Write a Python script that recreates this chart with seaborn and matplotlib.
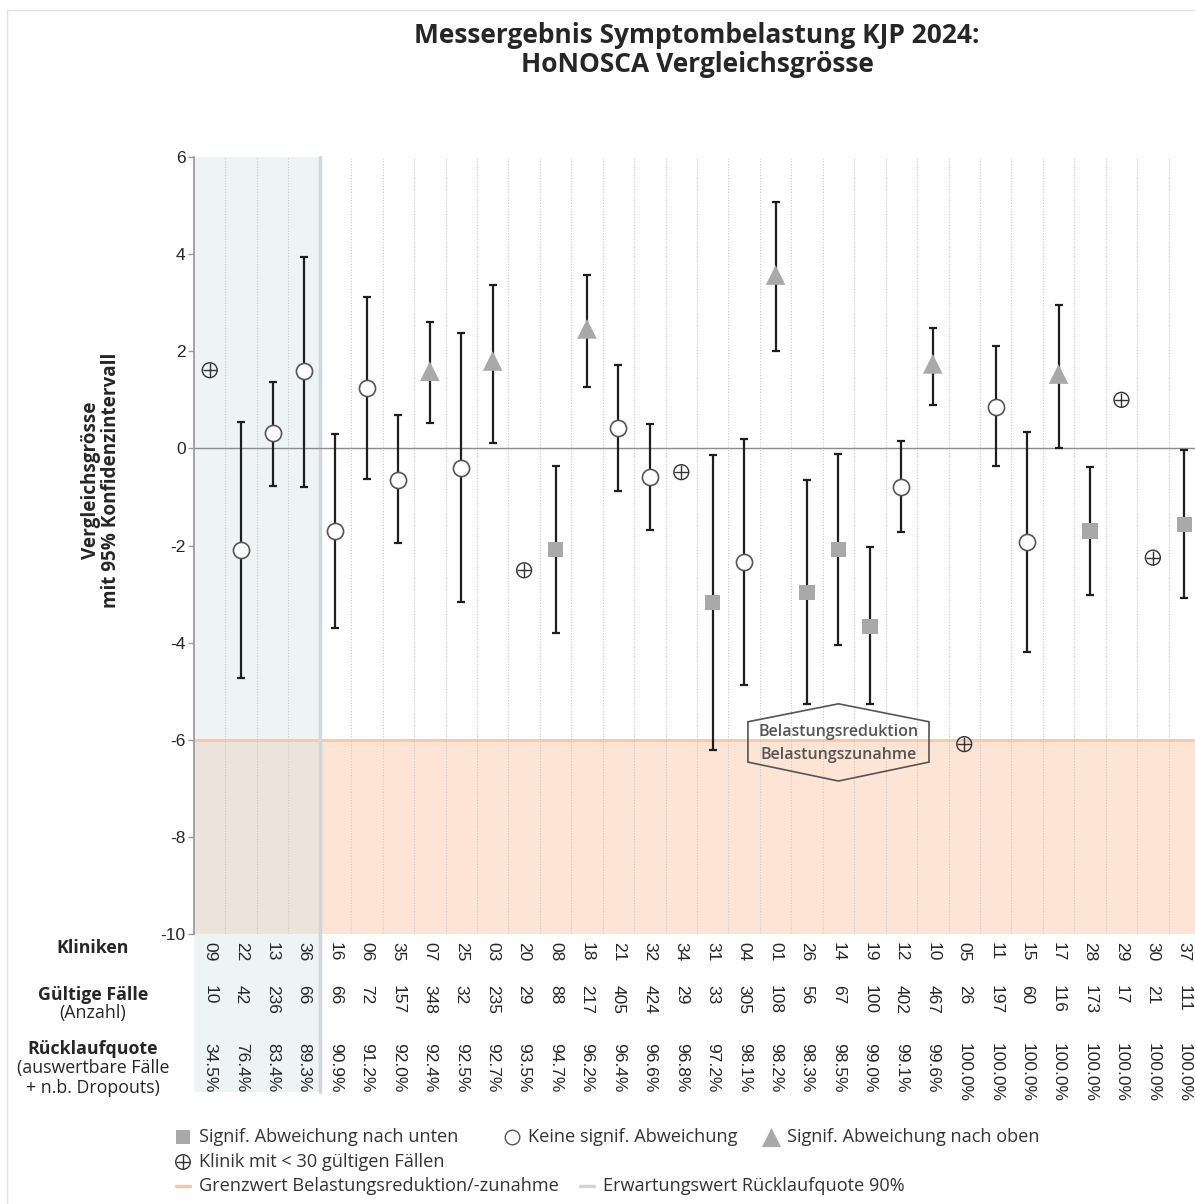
import numpy as np
import pandas as pd
import seaborn as sns
import matplotlib.pyplot as plt
import matplotlib.transforms as mtransforms
from matplotlib.patches import Polygon

# Werte
kliniken = ["09", "22", "13", "36", "16", "06", "35", "07", "25", "03", "20", "08", "18", "21", "32", "34",
            "31", "04", "01", "26", "14", "19", "12", "10", "05", "11", "15", "17", "28", "29", "30", "37"]
faelle = [10, 42, 236, 66, 66, 72, 157, 348, 32, 235, 29, 88, 217, 405, 424, 29,
          33, 305, 108, 56, 67, 100, 402, 467, 26, 197, 60, 116, 173, 17, 21, 111]
quote = [34.5, 76.4, 83.4, 89.3, 90.9, 91.2, 92.0, 92.4, 92.5, 92.7, 93.5, 94.7, 96.2, 96.4, 96.6, 96.8,
         97.2, 98.1, 98.2, 98.3, 98.5, 99.0, 99.1, 99.6, 100.0, 100.0, 100.0, 100.0, 100.0, 100.0, 100.0, 100.0]
wert = [1.61, -2.09, 0.32, 1.59, -1.70, 1.24, -0.65, 1.59, -0.40, 1.80, -2.51, -2.09, 2.46, 0.42, -0.59, -0.49,
        -3.18, -2.34, 3.57, -2.96, -2.09, -3.66, -0.79, 1.74, -6.09, 0.85, -1.93, 1.53, -1.70, 1.00, -2.25, -1.56]
ki_unten = [np.nan, -4.73, -0.77, -0.79, -3.70, -0.63, -1.95, 0.52, -3.16, 0.11, np.nan, -3.80, 1.26, -0.88, -1.68, np.nan,
            -6.21, -4.88, 2.01, -5.26, -4.05, -5.26, -1.72, 0.89, np.nan, -0.36, -4.19, 0.00, -3.02, np.nan, np.nan, -3.08]
ki_oben = [np.nan, 0.54, 1.37, 3.94, 0.30, 3.12, 0.69, 2.60, 2.38, 3.36, np.nan, -0.36, 3.57, 1.72, 0.50, np.nan,
           -0.14, 0.19, 5.07, -0.65, -0.11, -2.03, 0.15, 2.48, np.nan, 2.11, 0.34, 2.95, -0.38, np.nan, np.nan, -0.03]
gruppe = ["wenig", "keine", "keine", "keine", "keine", "keine", "keine", "oben", "keine", "oben", "wenig", "unten",
          "oben", "keine", "keine", "wenig", "unten", "keine", "oben", "unten", "unten", "unten", "keine", "oben",
          "wenig", "keine", "keine", "oben", "unten", "wenig", "wenig", "unten"]

df = pd.DataFrame({"x": np.arange(len(kliniken)), "klinik": kliniken, "wert": wert,
                   "unten": ki_unten, "oben": ki_oben, "gruppe": gruppe})

sns.set_theme(style="white")
plt.rcParams['font.family'] = ['Open Sans', 'DejaVu Sans']

W, H = 1195, 1204
fig = plt.figure(figsize=(W / 100, H / 100), dpi=100)
ax = fig.add_axes([194 / W, 1 - 934 / H, (1200 - 194) / W, (934 - 157) / H])
ax.set_xlim(-0.5, len(kliniken) - 0.5)
ax.set_ylim(-10, 6)
tab_unten = -(1092 - 934) / 777

# Hintergründe
ax.axvspan(-0.5, 3.5, ymin=tab_unten, ymax=1, color="#eef3f3", lw=0, zorder=0, clip_on=False)
ax.axhspan(-10, -6, color="#fde4d5", lw=0, zorder=0.5)
ax.fill_between([-0.5, 3.5], -10, -6, color="#ece3db", lw=0, zorder=0.6)
ax.axhline(-6, color="#f9c6a8", lw=2, zorder=0.7)
ax.axvline(3.5, ymin=tab_unten, ymax=1, color="#cdd8de", lw=2.5, clip_on=False, zorder=0.8)
for b in np.arange(0.5, len(kliniken) - 0.5, 1):
    if b != 3.5:
        ax.axvline(b, color="#c8c8c8", lw=0.8, ls=(0, (1, 1.5)), zorder=0.9)
ax.axhline(0, color="#8c8c8c", lw=1, zorder=1)

# Konfidenzintervalle
m = df["unten"].notna()
ax.errorbar(df.loc[m, "x"], df.loc[m, "wert"],
            yerr=[df.loc[m, "wert"] - df.loc[m, "unten"], df.loc[m, "oben"] - df.loc[m, "wert"]],
            fmt="none", ecolor="#1e1e1e", elinewidth=1.6, capsize=3.2, capthick=1.6, zorder=2)

# Marker
sns.scatterplot(data=df[df.gruppe == "keine"], x="x", y="wert", marker="o", s=135,
                color="white", edgecolor="#555555", linewidth=1.2, zorder=3, ax=ax, legend=False)
sns.scatterplot(data=df[df.gruppe == "unten"], x="x", y="wert", marker="s", s=120,
                color="#a9a9a9", edgecolor="none", linewidth=0, zorder=3, ax=ax, legend=False)
sns.scatterplot(data=df[df.gruppe == "oben"], x="x", y="wert", marker="^", s=200,
                color="#a9a9a9", edgecolor="none", linewidth=0, zorder=3, ax=ax, legend=False)
wenig = df[df.gruppe == "wenig"]
sns.scatterplot(data=wenig, x="x", y="wert", marker="o", s=115,
                color="none", edgecolor="#333333", linewidth=1, zorder=3, ax=ax, legend=False)
sns.scatterplot(data=wenig, x="x", y="wert", marker="+", s=115,
                color="#333333", linewidth=1, zorder=3, ax=ax, legend=False)

# Beschriftung Grenzwert
hexa = Polygon([(17.12, -5.63), (20, -5.26), (22.88, -5.63), (22.88, -6.46), (20, -6.85), (17.12, -6.46)],
               closed=True, fill=False, edgecolor="#555555", lw=1.2, zorder=4)
ax.add_patch(hexa)
ax.text(20, -5.84, "Belastungsreduktion", ha="center", va="center", fontsize=11.5, color="#555555",
        fontweight="semibold", zorder=5)
ax.text(20, -6.31, "Belastungszunahme", ha="center", va="center", fontsize=11.5, color="#555555",
        fontweight="semibold", zorder=5)

# Achsen
ax.set_yticks(range(-10, 7, 2))
ax.set_yticklabels([str(v) for v in range(-10, 7, 2)], fontfamily="Liberation Sans", fontsize=12.5)
ax.tick_params(axis="y", length=4, width=1, color="#999999", pad=2, left=True)
ax.set_xticks(df["x"])
ax.set_xticklabels(kliniken, rotation=-90, va="top", ha="center", fontfamily="Liberation Sans", fontsize=12.5)
ax.tick_params(axis="x", length=0, pad=6)
for s in ["top", "right", "bottom"]:
    ax.spines[s].set_visible(False)
ax.spines["left"].set_color("#999999")
ax.set_xlabel("")
ax.set_ylabel("")
ax.patch.set_alpha(0)

trans = mtransforms.blended_transform_factory(ax.transData, ax.transAxes)
for i in range(len(kliniken)):
    ax.text(i, -(985 - 934) / 777, str(faelle[i]), rotation=-90, ha="center", va="top",
            transform=trans, fontfamily="Liberation Sans", fontsize=12.5)
    ax.text(i, -(1043 - 934) / 777, f"{quote[i]:.1f}%", rotation=-90, ha="center", va="top",
            transform=trans, fontfamily="Liberation Sans", fontsize=12.5)

# Titel und Beschriftungen
fig.text(697 / W, 1 - 50 / H, "Messergebnis Symptombelastung KJP 2024:\nHoNOSCA Vergleichsgrösse",
         ha="center", va="center", fontsize=19, fontweight="bold", linespacing=1.1)
fig.text(101 / W, 1 - 480 / H, "Vergleichsgrösse\nmit 95% Konfidenzintervall", rotation=90,
         ha="center", va="center", fontsize=13.6, fontweight="bold", linespacing=1.0)

zeilen = [("Kliniken", 948, "bold"), ("Gültige Fälle", 995, "bold"), ("(Anzahl)", 1013, "normal"),
          ("Rücklaufquote", 1049, "bold"), ("(auswertbare Fälle", 1068, "normal"), ("+ n.b. Dropouts)", 1088, "normal")]
for txt, y, fw in zeilen:
    fig.text(93 / W, 1 - y / H, txt, ha="center", va="center", fontsize=12.8, fontweight=fw)

# Legende
lax = fig.add_axes([0, 0, 1, 1])
lax.set_xlim(0, W)
lax.set_ylim(H, 0)
lax.axis("off")
lax.patch.set_alpha(0)
lax.plot([7, 7, W], [H, 10, 10], color="#e2e2e2", lw=1)
lax.scatter([183], [1137], marker="s", s=95, color="#a9a9a9", lw=0)
lax.scatter([512], [1137], marker="o", s=110, color="white", edgecolor="#555555", lw=1)
lax.scatter([771], [1137], marker="^", s=190, color="#a9a9a9", lw=0)
lax.scatter([183], [1162], marker="o", s=110, color="none", edgecolor="#333333", lw=1)
lax.scatter([183], [1162], marker="+", s=110, color="#333333", lw=1)
lax.plot([176, 190], [1186, 1186], color="#f9c6a8", lw=2.5)
lax.plot([580, 594], [1186, 1186], color="#cdd8de", lw=2.5)
for txt, x, y in [("Signif. Abweichung nach unten", 199, 1137), ("Keine signif. Abweichung", 528, 1137),
                  ("Signif. Abweichung nach oben", 787, 1137), ("Klinik mit < 30 gültigen Fällen", 199, 1162),
                  ("Grenzwert Belastungsreduktion/-zunahme", 199, 1186), ("Erwartungswert Rücklaufquote 90%", 603, 1186)]:
    lax.text(x, y, txt, ha="left", va="center", fontsize=13.1, color="#333333")

fig.savefig("out.png", dpi=100)
